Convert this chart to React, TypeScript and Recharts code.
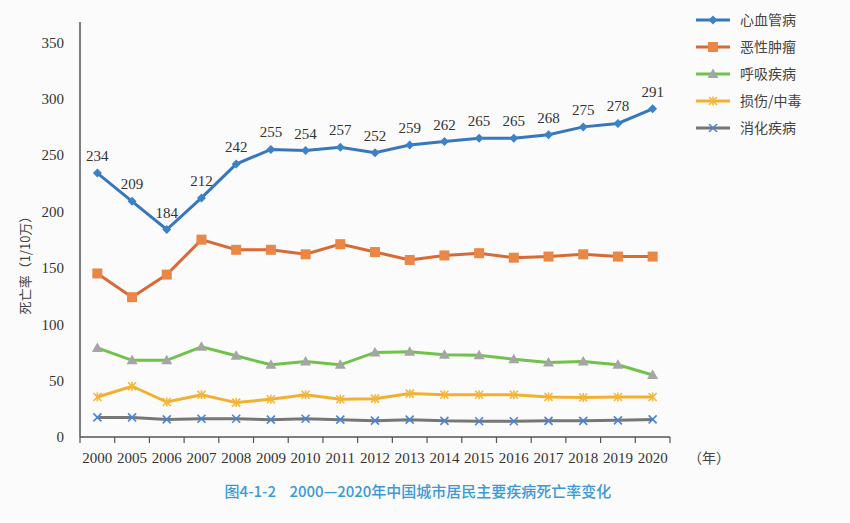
import { LineChart, Line, XAxis, YAxis, Legend, LabelList } from "recharts";

const years = ["2000", "2005", "2006", "2007", "2008", "2009", "2010", "2011", "2012", "2013", "2014", "2015", "2016", "2017", "2018", "2019", "2020"];
const cardio = [234, 209, 184, 212, 242, 255, 254, 257, 252, 259, 262, 265, 265, 268, 275, 278, 291];
const cancer = [145, 124, 144, 175, 166, 166, 162, 171, 164, 157, 161, 163, 159, 160, 162, 160, 160];
const respiratory = [79, 68, 68, 80, 72, 64, 67, 64, 75, 75.5, 73, 72.5, 69, 66, 67, 64, 55];
const injury = [35.5, 45, 31, 37.5, 30.5, 33.5, 37.5, 33.5, 34, 38.5, 37.5, 37.5, 37.5, 35.5, 35, 35.5, 35.5];
const digestive = [17.4, 17.4, 15.6, 16.2, 16.2, 15.4, 16.2, 15.4, 14.5, 15.4, 14.3, 14, 14, 14.3, 14.3, 14.8, 15.6];
const yTicks = [0, 50, 100, 150, 200, 250, 300, 350];

const data = years.map((y, i) => ({
  year: y,
  cardio: cardio[i],
  cancer: cancer[i],
  respiratory: respiratory[i],
  injury: injury[i],
  digestive: digestive[i],
}));

const serif = "'Liberation Serif', 'Noto Sans CJK SC', serif";
const cjk = "'Noto Sans CJK SC', sans-serif";

const plotLeft = 80;
const plotRight = 670;
const band = (plotRight - plotLeft) / years.length;

// marker shapes, drawn around (x, y)
function marker(kind: string, x: number, y: number, key?: string | number) {
  switch (kind) {
    case "diamond":
      return <path key={key} d={`M${x},${y - 4.5}L${x + 4.5},${y}L${x},${y + 4.5}L${x - 4.5},${y}Z`} fill="#3c82c8" />;
    case "square":
      return <rect key={key} x={x - 5} y={y - 5} width={10} height={10} fill="#ea8646" />;
    case "triangle":
      return <path key={key} d={`M${x},${y - 5.5}L${x + 5.5},${y + 4}L${x - 5.5},${y + 4}Z`} fill="#a5a5a5" />;
    case "star":
      return (
        <g key={key} stroke="#f5b63a" strokeWidth={1.6}>
          <line x1={x - 4} y1={y - 4} x2={x + 4} y2={y + 4} />
          <line x1={x - 4} y1={y + 4} x2={x + 4} y2={y - 4} />
          <line x1={x} y1={y - 4.5} x2={x} y2={y + 4.5} />
        </g>
      );
    default:
      return (
        <g key={key} stroke="#4a84d4" strokeWidth={1.6}>
          <line x1={x - 4} y1={y - 4} x2={x + 4} y2={y + 4} />
          <line x1={x - 4} y1={y + 4} x2={x + 4} y2={y - 4} />
        </g>
      );
  }
}

const dotOf = (kind: string) => (p: any) => marker(kind, p.cx, p.cy, p.index);

const legendItems = [
  { name: "心血管病", color: "#3777bd", kind: "diamond" },
  { name: "恶性肿瘤", color: "#d86a35", kind: "square" },
  { name: "呼吸疾病", color: "#70c24c", kind: "triangle" },
  { name: "损伤/中毒", color: "#f3b02f", kind: "star" },
  { name: "消化疾病", color: "#777777", kind: "x" },
];

const LegendBox = () => (
  <svg width={150} height={140}>
    {legendItems.map((it, i) => {
      const y = 10 + i * 27;
      return (
        <g key={it.name}>
          <line x1={6} y1={y} x2={40} y2={y} stroke={it.color} strokeWidth={3} />
          {marker(it.kind, 23, y)}
          <text x={50} y={y + 5} fontSize={14} fill="#444" fontFamily={cjk}>
            {it.name}
          </text>
        </g>
      );
    })}
  </svg>
);

export default function App() {
  return (
    <div style={{ position: "absolute", left: 0, top: 0, width: 850, height: 523, background: "#fbfbfb" }}>
      <LineChart width={850} height={523} data={data} margin={{ top: 22, right: 850 - plotRight, bottom: 56, left: 20 }}>
        <XAxis
          dataKey="year"
          interval={0}
          height={30}
          padding={{ left: band / 2, right: band / 2 }}
          axisLine={{ stroke: "#555", strokeWidth: 1.5 }}
          tickLine={false}
          tick={{ fontSize: 15, fill: "#333", fontFamily: serif }}
          tickMargin={9}
        />
        <YAxis
          domain={[0, 368]}
          ticks={yTicks}
          interval={0}
          width={60}
          axisLine={{ stroke: "#555", strokeWidth: 1.5 }}
          tickLine={false}
          tick={{ fontSize: 15, fill: "#333", fontFamily: serif }}
          tickMargin={10}
        />
        <Legend
          layout="horizontal"
          verticalAlign="middle"
          wrapperStyle={{ position: "absolute", left: 690, top: 10, width: 150 }}
          content={() => <LegendBox />}
        />
        <Line dataKey="cardio" stroke="#3777bd" strokeWidth={3} dot={dotOf("diamond")} isAnimationActive={false}>
          <LabelList dataKey="cardio" position="top" offset={12} fontSize={15} fill="#333" fontFamily={serif} />
        </Line>
        <Line dataKey="cancer" stroke="#d86a35" strokeWidth={3} dot={dotOf("square")} isAnimationActive={false} />
        <Line dataKey="respiratory" stroke="#70c24c" strokeWidth={3} dot={dotOf("triangle")} isAnimationActive={false} />
        <Line dataKey="injury" stroke="#f3b02f" strokeWidth={3} dot={dotOf("star")} isAnimationActive={false} />
        <Line dataKey="digestive" stroke="#777777" strokeWidth={3} dot={dotOf("x")} isAnimationActive={false} />
        {/* category boundary ticks under the x axis */}
        <g>
          {years.concat([""]).map((_, i) => {
            const x = plotLeft + i * band;
            return <line key={i} x1={x} y1={437} x2={x} y2={443} stroke="#555" strokeWidth={1.2} />;
          })}
        </g>
        <text x={688} y={463} fontSize={14} fill="#444" fontFamily={cjk}>（年）</text>
        <text x={30} y={262} fontSize={13} fill="#444" fontFamily={cjk} textAnchor="middle" transform="rotate(-90 30 262)">
          死亡率（1/10万）
        </text>
        <text x={418} y={497} fontSize={15} fill="#3a9ad6" fontFamily={cjk} textAnchor="middle" fontWeight={500} style={{ whiteSpace: "pre" }}>
          {"图4-1-2    2000—2020年中国城市居民主要疾病死亡率变化"}
        </text>
      </LineChart>
    </div>
  );
}
